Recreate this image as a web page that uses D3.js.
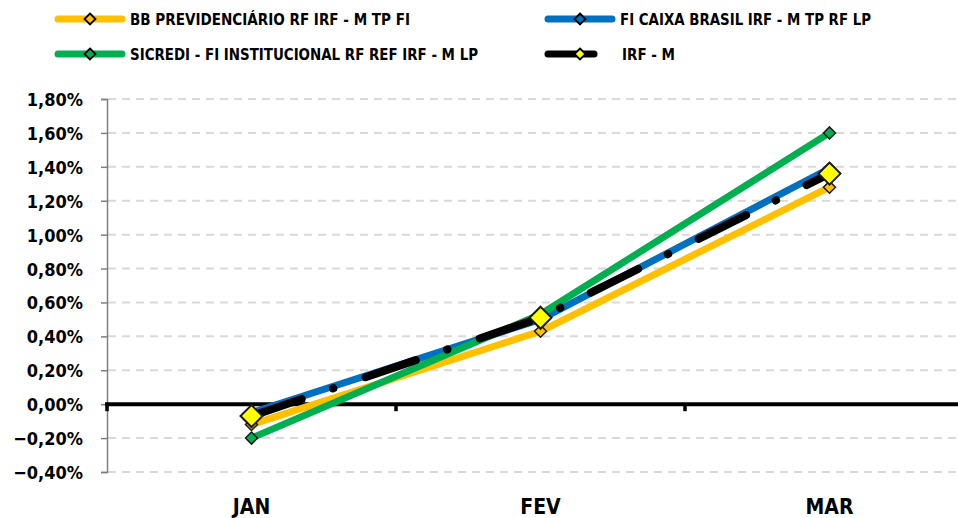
<!DOCTYPE html>
<html><head><meta charset="utf-8">
<script src="https://cdn.jsdelivr.net/npm/d3@7/dist/d3.min.js"></script>
<style>
html,body{margin:0;padding:0;background:#fff;}
svg text{font-family:"Liberation Sans Narrow","DejaVu Sans Condensed","Liberation Sans",sans-serif;font-weight:bold;fill:#000;}
</style></head>
<body><svg id="c" width="958" height="518"></svg>
<script>
const categories = ["JAN","FEV","MAR"];
const seriesNames = ["BB PREVIDENCIÁRIO RF IRF - M TP FI","FI CAIXA BRASIL IRF - M TP RF LP","SICREDI - FI INSTITUCIONAL RF REF IRF - M LP","IRF - M"];
const bbValues = [-0.12, 0.43, 1.28];
const caixaValues = [-0.05, 0.50, 1.39];
const sicrediValues = [-0.20, 0.53, 1.60];
const irfmValues = [-0.07, 0.51, 1.36];
const yTicks = [-0.4,-0.2,0,0.2,0.4,0.6,0.8,1.0,1.2,1.4,1.6,1.8];
const colors = ["#FFC000","#0070C0","#00B050","#000000"];

const svg = d3.select("#c");
const x = d3.scaleBand().domain(categories).range([107, 974]);
const y = d3.scaleLinear().domain([-0.4, 1.8]).range([472, 99]);
const fmt = v => d3.format(".2f")(v).replace(".", ",").replace("-0,00","0,00") + "%";

// gridlines
svg.append("g").selectAll("line").data(yTicks.filter(d => d !== 0)).join("line")
  .attr("x1", 108).attr("x2", 958).attr("y1", d => y(d)).attr("y2", d => y(d))
  .attr("stroke", "#d9d9d9").attr("stroke-width", 2).attr("stroke-dasharray", "8,6");

// y axis
const yAxis = d3.axisLeft(y).tickValues(yTicks).tickFormat(fmt).tickSize(6).tickPadding(18);
const gy = svg.append("g").attr("transform", "translate(107,0)").call(yAxis);
gy.select(".domain").attr("stroke", "#808080").attr("stroke-width", 1.5);
gy.selectAll(".tick line").attr("stroke", "#808080").attr("stroke-width", 1.5);
gy.selectAll(".tick text").style("font-size", "18px").attr("dy", "0.36em");

// zero axis with category ticks
const gx = svg.append("g");
gx.append("line").attr("x1", 105).attr("x2", 958).attr("y1", y(0)).attr("y2", y(0))
  .attr("stroke", "#000").attr("stroke-width", 4);
gx.selectAll("line.t").data(categories).join("line").attr("class","t")
  .attr("x1", d => x(d)).attr("x2", d => x(d)).attr("y1", y(0)).attr("y2", y(0) + 7)
  .attr("stroke", "#000").attr("stroke-width", 3.5);
gx.selectAll("text").data(categories).join("text")
  .attr("x", d => x(d) + x.bandwidth()/2).attr("y", 514).attr("text-anchor", "middle")
  .style("font-size", "21px").text(d => d);

const line = d3.line().x((d,i) => x(categories[i]) + x.bandwidth()/2).y(d => y(d));
const diamond = (s) => `M0,${-s}L${s},0L0,${s}L${-s},0Z`;
const all = [bbValues, caixaValues, sicrediValues];

all.forEach((vals, k) => {
  svg.append("path").datum(vals).attr("d", line).attr("fill", "none")
    .attr("stroke", colors[k]).attr("stroke-width", 7).attr("stroke-linejoin", "round");
});
all.forEach((vals, k) => {
  svg.append("g").selectAll("path").data(vals).join("path")
    .attr("transform", (d,i) => `translate(${x(categories[i]) + x.bandwidth()/2},${y(d)})`)
    .attr("d", diamond(6)).attr("fill", colors[k]).attr("stroke", "#1a1a1a").attr("stroke-width", 1.5);
});
// IRF-M
svg.append("path").datum(irfmValues).attr("d", line).attr("fill", "none")
  .attr("stroke", "#000").attr("stroke-width", 8).attr("stroke-linecap", "round")
  .attr("stroke-dasharray", "53,33,0.5,34");
svg.append("g").selectAll("path").data(irfmValues).join("path")
  .attr("transform", (d,i) => `translate(${x(categories[i]) + x.bandwidth()/2},${y(d)})`)
  .attr("d", diamond(11)).attr("fill", "#FFFF00").attr("stroke", "#1a1a1a").attr("stroke-width", 2);

// legend
const legPos = [[55,19],[545,19],[55,54],[545,54]];
const legWidths = [280, 251, 348, 53];
seriesNames.forEach((name, k) => {
  const [lx, ly] = legPos[k];
  const g = svg.append("g");
  const len = k === 3 ? 52 : 70;
  g.append("line").attr("x1", lx + 3).attr("x2", lx + len - 3).attr("y1", ly).attr("y2", ly)
    .attr("stroke", colors[k]).attr("stroke-width", 7).attr("stroke-linecap", "round");
  g.append("path").attr("transform", `translate(${lx + 35},${ly})`).attr("d", diamond(5.5))
    .attr("fill", k === 3 ? "#FFFF00" : colors[k]).attr("stroke", "#000").attr("stroke-width", 1.8);
  const tx = k === 3 ? lx + 77 : lx + 75;
  g.append("text").attr("x", tx).attr("y", ly + 5.5).style("font-size", "15px")
    .attr("textLength", legWidths[k]).attr("lengthAdjust", "spacingAndGlyphs").text(name);
});
</script></body></html>
